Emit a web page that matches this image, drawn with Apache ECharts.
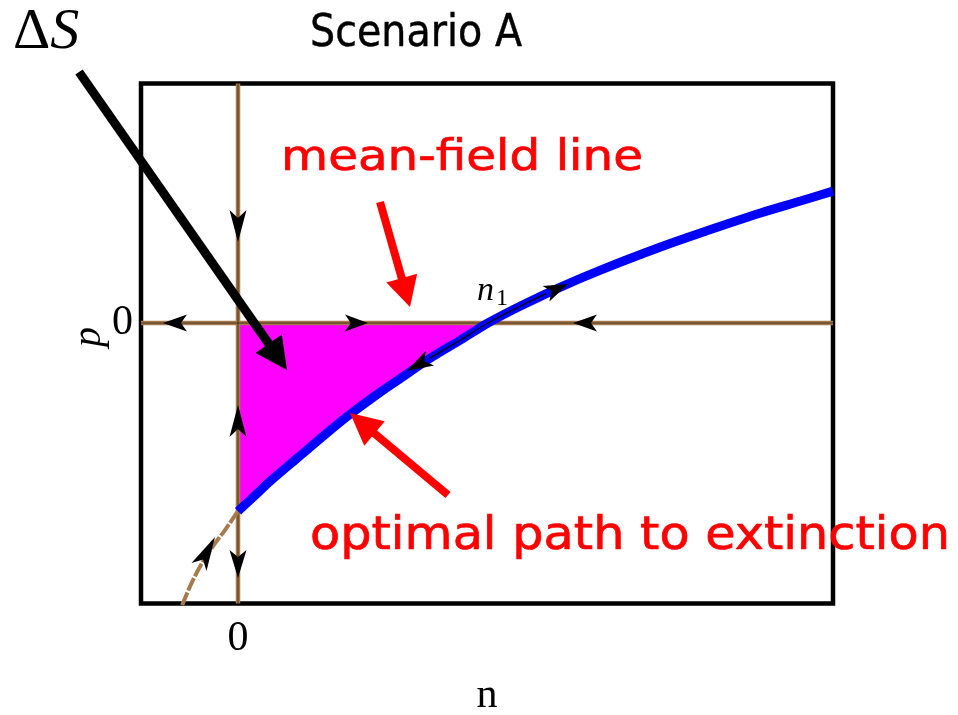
<!DOCTYPE html>
<html>
<head>
<meta charset="utf-8">
<script src="https://cdn.jsdelivr.net/npm/echarts@6/dist/echarts.min.js"></script>
<style>
  html, body { margin: 0; padding: 0; background: #fff; }
  #chart { width: 958px; height: 715px; }
</style>
</head>
<body>
<div id="chart"></div>
<script>
// ---- axis ranges and ticks ----
const nRange = [-0.388, 2.38];
const pRange = [-1.52, 1.298];
const nTickValues = [0];
const nTickLabels = ['0'];
const pTickValues = [0, -1];
const pLabelValues = [0];
const pTickLabels = ['0'];

// ---- optimal path (blue), from n = 0 up through n1 = 1 and beyond ----
const pathN = [0, 0.07, 0.13, 0.24, 0.37, 0.45, 0.57, 0.64, 0.77, 0.89, 1.0, 1.13, 1.29, 1.45, 1.69, 1.85, 2.09, 2.25, 2.38];
const pathP = [-1.02, -0.932, -0.856, -0.729, -0.58, -0.493, -0.374, -0.309, -0.19, -0.092, 0, 0.092, 0.195, 0.287, 0.412, 0.488, 0.596, 0.661, 0.715];

// ---- continuation of the same trajectory into n < 0 (dashed brown) ----
const branchN = [0, -0.052, -0.1, -0.144, -0.184, -0.22, -0.232];
const branchP = [-1.02, -1.122, -1.209, -1.301, -1.404, -1.518, -1.56];

// ---- thin trajectory drawn on top of the optimal path around n1 ----
const hetN = [0.768, 0.89, 1.0, 1.13, 1.232];
const hetP = [-0.19, -0.092, 0, 0.092, 0.159];

// ---- flow direction arrowheads: [tailN, tailP, tipN, tipP] ----
const flowArrows = [
  [-0.204, 0, -0.3, 0],
  [0.428, 0, 0.52, 0],
  [1.436, 0, 1.34, 0],
  [0, 0.612, 0, 0.439],
  [0, -0.618, 0, -0.444],
  [0, -1.23, 0, -1.382],
  [-0.156, -1.322, -0.092, -1.16],
  [0.768, -0.19, 0.676, -0.26],
  [1.232, 0.159, 1.32, 0.211]
];

const n1 = 1.0;

const pathPts = pathN.map((n, i) => [n, pathP[i]]);
const areaPts = pathPts.filter(d => d[0] <= n1);
const branchPts = branchN.map((n, i) => [n, branchP[i]]);
const hetPts = hetN.map((n, i) => [n, hetP[i]]);
const hLine = [[nRange[0], 0], [nRange[1], 0]];
const vLine = [[0, pRange[0]], [0, pRange[1]]];

const SERIF = 'Liberation Serif';
const HAND = 'DejaVu Sans';
const BROWN = '#a67a4c';

// ---- annotation helpers (pixel layout) ----
const measureCtx = document.createElement('canvas').getContext('2d');
function textWidth(str, font) {
  measureCtx.font = font;
  return measureCtx.measureText(str).width;
}
function fittedText(str, left, right, y, size, family, color, scaleY, strokeW) {
  const font = size + 'px "' + family + '"';
  const w = textWidth(str, font);
  return {
    type: 'text', x: left, y: y, scaleX: (right - left) / w, scaleY: scaleY || 1, z: 200,
    style: {
      text: str, fontSize: size, fontFamily: family, fill: color,
      stroke: color, lineWidth: strokeW || 0,
      align: 'left', verticalAlign: 'middle', textAlign: 'left', textVerticalAlign: 'middle'
    }
  };
}
function bigArrow(tail, tip, color, shaftW, headL, headW) {
  const dx = tip[0] - tail[0], dy = tip[1] - tail[1];
  const L = Math.hypot(dx, dy), ux = dx / L, uy = dy / L;
  const bx = tip[0] - headL * ux, by = tip[1] - headL * uy;
  const px = -uy * headW / 2, py = ux * headW / 2;
  return [
    { type: 'line', z: 190, shape: { x1: tail[0], y1: tail[1], x2: bx + 2 * ux, y2: by + 2 * uy },
      style: { stroke: color, lineWidth: shaftW, lineCap: 'butt' } },
    { type: 'polygon', z: 191, shape: { points: [[tip[0], tip[1]], [bx + px, by + py], [bx - px, by - py]] },
      style: { fill: color } }
  ];
}

const chart = echarts.init(document.getElementById('chart'), null, { renderer: 'canvas' });

const graphics = [
  fittedText('Scenario A', 310, 522, 34, 40, HAND, '#000', 1.12, 0.4),
  fittedText('mean-field line', 281, 643, 159, 42, HAND, '#ff0000', 1.0, 0.7),
  fittedText('optimal path to extinction', 310, 950, 537, 46, HAND, '#ff0000', 1.0, 0.7),
  {
    type: 'text', x: 13, y: 33, z: 200,
    style: {
      text: '{a|Δ}{b|S}', verticalAlign: 'middle', textVerticalAlign: 'middle',
      rich: {
        a: { fontFamily: SERIF, fontSize: 58, fill: '#000' },
        b: { fontFamily: SERIF, fontSize: 58, fontStyle: 'italic', fill: '#000' }
      }
    }
  },
  { type: 'text', x: 477, y: 291, z: 200,
    style: { text: 'n', fontFamily: SERIF, fontSize: 34, fontStyle: 'italic', fill: '#000', verticalAlign: 'middle', textVerticalAlign: 'middle' } },
  { type: 'text', x: 496, y: 299, z: 200,
    style: { text: '1', fontFamily: SERIF, fontSize: 24, fill: '#000', verticalAlign: 'middle', textVerticalAlign: 'middle' } },
  { type: 'text', x: 487, y: 696, z: 200,
    style: { text: 'n', fontFamily: SERIF, fontSize: 42, fill: '#000', align: 'center', textAlign: 'center', verticalAlign: 'middle', textVerticalAlign: 'middle' } },
  { type: 'text', x: 89, y: 337, rotation: Math.PI / 2, z: 200,
    style: { text: 'p', fontFamily: SERIF, fontSize: 40, fontStyle: 'italic', fill: '#000', align: 'center', textAlign: 'center', verticalAlign: 'middle', textVerticalAlign: 'middle' } }
].concat(
  bigArrow([79, 72], [287, 370], '#000', 9, 32, 32),
  bigArrow([380, 202], [410, 307], '#ff0000', 8, 30, 32),
  bigArrow([448, 495], [350, 413], '#ff0000', 8, 32, 32)
);

const option = {
  animation: false,
  backgroundColor: '#fff',
  grid: {
    left: 141, right: 125, top: 83.5, bottom: 111.5,
    show: true, borderColor: '#000', borderWidth: 4.5, backgroundColor: 'transparent'
  },
  xAxis: {
    type: 'value', min: nRange[0], max: nRange[1],
    axisLine: { show: false },
    splitLine: { show: false },
    axisTick: { show: true, inside: true, length: 6, customValues: nTickValues, lineStyle: { color: '#000', width: 2.5 } },
    axisLabel: {
      show: true, customValues: nTickValues, margin: 14,
      fontFamily: SERIF, fontSize: 42, color: '#000',
      formatter: v => nTickLabels[nTickValues.indexOf(v)] ?? ''
    }
  },
  yAxis: {
    type: 'value', min: pRange[0], max: pRange[1],
    axisLine: { show: false },
    splitLine: { show: false },
    axisTick: { show: true, inside: true, length: 5, customValues: pTickValues, lineStyle: { color: '#000', width: 2 } },
    axisLabel: {
      show: true, customValues: pLabelValues, margin: 8,
      fontFamily: SERIF, fontSize: 42, color: '#000',
      formatter: v => pTickLabels[pLabelValues.indexOf(v)] ?? ''
    }
  },
  graphic: graphics,
  series: [
    { // action region between the axes and the optimal path
      type: 'line', data: areaPts, symbol: 'none', silent: true, z: 1,
      lineStyle: { width: 0 },
      areaStyle: { color: '#ff00ff', opacity: 1, origin: 'auto' }
    },
    { type: 'line', data: hLine, symbol: 'none', silent: true, z: 2, lineStyle: { color: BROWN, width: 4.5 } },
    { type: 'line', data: vLine, symbol: 'none', silent: true, z: 2, lineStyle: { color: BROWN, width: 4.5 } },
    { type: 'line', data: hLine, symbol: 'none', silent: true, z: 3, lineStyle: { color: '#2a1c0e', width: 1, opacity: 0.75 } },
    { type: 'line', data: vLine, symbol: 'none', silent: true, z: 3, lineStyle: { color: '#2a1c0e', width: 1, opacity: 0.75 } },
    {
      type: 'line', data: branchPts, symbol: 'none', silent: true, z: 3, smooth: 0.3,
      lineStyle: { color: BROWN, width: 4, type: [14, 2] }
    },
    {
      type: 'line', data: pathPts, symbol: 'none', silent: true, z: 4, smooth: 0.3,
      lineStyle: { color: '#0000ff', width: 9 }
    },
    {
      type: 'line', data: hetPts, symbol: 'none', silent: true, z: 5, smooth: 0.3,
      lineStyle: { color: '#000', width: 1.3 }
    },
    {
      type: 'custom', data: flowArrows, silent: true, z: 6,
      renderItem: function (params, api) {
        const tail = api.coord([api.value(0), api.value(1)]);
        const tip = api.coord([api.value(2), api.value(3)]);
        const dx = tip[0] - tail[0], dy = tip[1] - tail[1];
        const L = Math.hypot(dx, dy), ux = dx / L, uy = dy / L;
        const w = 8.5;
        const px = -uy * w, py = ux * w;
        const bx = tip[0] - L * ux, by = tip[1] - L * uy;
        const nx = tip[0] - 0.75 * L * ux, ny = tip[1] - 0.75 * L * uy;
        return {
          type: 'polygon',
          shape: { points: [[tip[0], tip[1]], [bx + px, by + py], [nx, ny], [bx - px, by - py]] },
          style: { fill: '#000' }
        };
      }
    }
  ]
};

chart.setOption(option);
</script>
</body>
</html>
